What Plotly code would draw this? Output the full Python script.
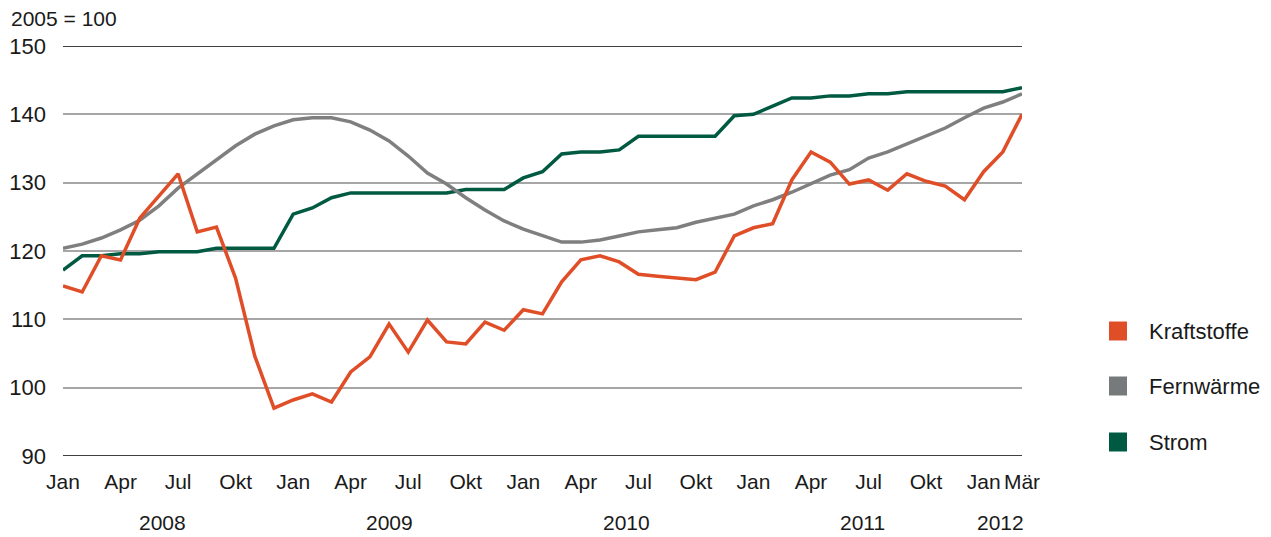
import plotly.graph_objects as go

months = ["Jan","Feb","Mär","Apr","Mai","Jun","Jul","Aug","Sep","Okt","Nov","Dez"]
labels = [f"{m} {y}" for y in range(2008, 2013) for m in months][:51]

kraftstoffe = [114.9, 114.0, 119.3, 118.7, 124.8, 128.0, 131.3, 122.8, 123.5, 116.0, 104.6, 97.0,
               98.2, 99.1, 97.9, 102.3, 104.5, 109.3, 105.2, 109.9, 106.7, 106.4, 109.6, 108.4,
               111.4, 110.8, 115.5, 118.7, 119.3, 118.4, 116.6, 116.3, 116.0, 115.8, 116.9, 122.2,
               123.4, 124.0, 130.4, 134.5, 133.0, 129.8, 130.4, 128.9, 131.3, 130.2, 129.5, 127.5,
               131.6, 134.5, 140.0]
fernwaerme = [120.4, 121.0, 121.9, 123.1, 124.5, 126.6, 129.2, 131.3, 133.3, 135.4, 137.1, 138.3,
              139.2, 139.5, 139.5, 138.9, 137.7, 136.1, 133.9, 131.4, 129.8, 127.8, 126.0, 124.4,
              123.2, 122.2, 121.3, 121.3, 121.6, 122.2, 122.8, 123.1, 123.4, 124.2, 124.8, 125.4,
              126.6, 127.5, 128.6, 129.8, 131.1, 131.9, 133.6, 134.5, 135.7, 136.8, 138.0, 139.5,
              140.9, 141.8, 143.0]
strom = [117.2, 119.3, 119.3, 119.6, 119.6, 119.9, 119.9, 119.9, 120.4, 120.4, 120.4, 120.4,
         125.4, 126.3, 127.8, 128.5, 128.5, 128.5, 128.5, 128.5, 128.5, 129.0, 129.0, 129.0,
         130.7, 131.6, 134.2, 134.5, 134.5, 134.8, 136.8, 136.8, 136.8, 136.8, 136.8, 139.8,
         140.0, 141.2, 142.4, 142.4, 142.7, 142.7, 143.0, 143.0, 143.3, 143.3, 143.3, 143.3,
         143.3, 143.3, 143.9]

tick_idx = [0, 3, 6, 9, 12, 15, 18, 21, 24, 27, 30, 33, 36, 39, 42, 45, 48, 50]
tick_text = ["Jan","Apr","Jul","Okt","Jan","Apr","Jul","Okt","Jan","Apr","Jul","Okt",
             "Jan","Apr","Jul","Okt","Jan","Mär"]
years = ["2008", "2009", "2010", "2011", "2012"]
year_pos = [5.2, 17.0, 29.4, 41.7, 48.9]

series_names = ["Kraftstoffe", "Fernwärme", "Strom"]
series_vals = [kraftstoffe, fernwaerme, strom]
line_cols = ["#E04E28", "#7F7F7F", "#005A42"]
legend_cols = ["#E04E28", "#767A7A", "#005A42"]

# figure geometry (page has 8px body margin)
W, H = 1263, 529
L, T, R, B = 55, 38, 249, 81
PW, PH = W - L - R, H - T - B

def px(fx):
    return (fx - L) / PW

def py(fy):
    return (T + PH - fy) / PH

x = list(range(len(labels)))
fig = go.Figure()
for k in [2, 1, 0]:
    fig.add_trace(go.Scatter(x=x, y=series_vals[k], mode="lines", name=series_names[k],
                             text=labels, line=dict(color=line_cols[k], width=3.5),
                             showlegend=False, cliponaxis=False))

font = "Liberation Sans, Arial, sans-serif"
fig.update_layout(
    width=W, height=H,
    margin=dict(l=L, r=R, t=T, b=B, autoexpand=False),
    plot_bgcolor="white", paper_bgcolor="white",
    font=dict(family=font, size=21, color="#1a1a1a"),
    xaxis=dict(range=[0, 50], tickvals=tick_idx, ticktext=tick_text, showgrid=False,
               zeroline=False, showline=False, ticks="", ticklabelstandoff=11,
               tickfont=dict(size=21), automargin=False),
    yaxis=dict(range=[90, 150], tickvals=[90, 100, 110, 120, 130, 140, 150],
               showgrid=True, gridcolor="#A6A6A6", gridwidth=1.5, zeroline=False,
               ticks="", ticklabelstandoff=16, tickfont=dict(size=22), automargin=False),
    showlegend=False,
)
for yv in [90, 150]:
    fig.add_shape(type="line", xref="paper", yref="y", x0=0, x1=1, y0=yv, y1=yv,
                  line=dict(color="black", width=1.5), layer="below")
for yr, pos in zip(years, year_pos):
    fig.add_annotation(x=pos, y=py(514), xref="x", yref="paper", text=yr, showarrow=False,
                       font=dict(size=21), yanchor="middle")
fig.add_annotation(x=px(2), y=py(11), xref="paper", yref="paper", text="2005 = 100",
                   showarrow=False, font=dict(size=21), xanchor="left", yanchor="middle",
                   borderpad=0)

# legend (squares + labels)
leg_y = [323, 378, 434]
for name, col, fy in zip(series_names, legend_cols, leg_y):
    fig.add_shape(type="rect", xref="paper", yref="paper",
                  x0=px(1101), x1=px(1119), y0=py(fy + 9.5), y1=py(fy - 9.5),
                  fillcolor=col, line=dict(width=0))
    fig.add_annotation(x=px(1139), y=py(fy), xref="paper", yref="paper", text=name,
                       showarrow=False, font=dict(size=22), xanchor="left", yanchor="middle")

fig.write_html("out.html")
